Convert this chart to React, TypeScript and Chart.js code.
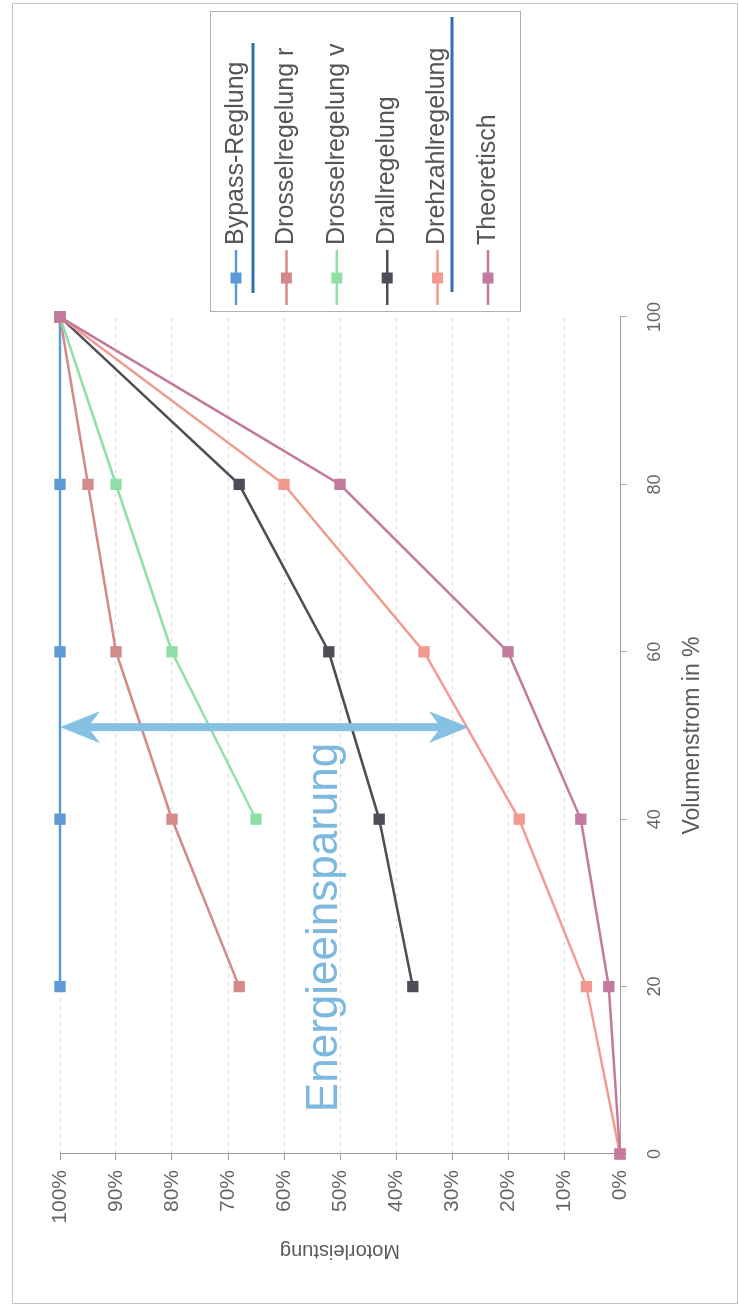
import { useEffect, useRef } from 'react';
import { Chart, registerables } from 'chart.js';

Chart.register(...registerables);

// ---- data ----
const volumenstrom = [0, 20, 40, 60, 80, 100];
const seriesNames = [
  'Bypass-Reglung',
  'Drosselregelung r',
  'Drosselregelung v',
  'Drallregelung',
  'Drehzahlregelung',
  'Theoretisch',
];
const bypass = [null, 100, 100, 100, 100, 100];
const drosselR = [null, 68, 80, 90, 95, 100];
const drosselV = [null, null, 65, 80, 90, 100];
const drall = [null, 37, 43, 52, 68, 100];
const drehzahl = [0, 6, 18, 35, 60, 100];
const theoretisch = [0, 2, 7, 20, 50, 100];

const xTickStep = 20;
const yTickStep = 10;

// annotation: double arrow + label
const arrowFlow = 51;
const arrowFrom = 100;
const arrowTo = 27;
const savingLabel = 'Energieeinsparung';
const savingLabelFlow = 5;
const savingLabelPower = 50.5;

// ---- styles ----
const W = 1307;
const H = 739;
const FONT = '"Liberation Sans", Arial, sans-serif';
const lineColors = ['#5b9bd5', '#d48a8a', '#8fe0a6', '#4e4e58', '#f29a90', '#c47a9e'];

export default function App() {
  const ref = useRef<HTMLCanvasElement>(null);

  useEffect(() => {
    const canvas = ref.current;
    if (!canvas) return;
    const all = [bypass, drosselR, drosselV, drall, drehzahl, theoretisch];
    const toPts = (arr: (number | null)[]) =>
      volumenstrom
        .map((x, i) => (arr[i] == null ? null : { x, y: arr[i] as number }))
        .filter((p) => p !== null) as { x: number; y: number }[];

    const decor = {
      id: 'decor',
      afterDatasetsDraw(chart: any) {
        const { ctx, scales } = chart;
        const xs = scales.x;
        const ys = scales.y;
        ctx.save();
        // double arrow
        const ax = xs.getPixelForValue(arrowFlow);
        const a1 = ys.getPixelForValue(arrowFrom);
        const a2 = ys.getPixelForValue(arrowTo);
        const col = '#86c0e2';
        ctx.strokeStyle = col;
        ctx.fillStyle = col;
        ctx.lineWidth = 8;
        ctx.beginPath();
        ctx.moveTo(ax, a1 + 20);
        ctx.lineTo(ax, a2 - 20);
        ctx.stroke();
        const head = (tip: number, dir: number) => {
          ctx.beginPath();
          ctx.moveTo(ax, tip);
          ctx.lineTo(ax - 16, tip + dir * 40);
          ctx.lineTo(ax, tip + dir * 28);
          ctx.lineTo(ax + 16, tip + dir * 40);
          ctx.closePath();
          ctx.fill();
        };
        head(a1, 1);
        head(a2, -1);
        // label
        ctx.font = '44px ' + FONT;
        ctx.fillStyle = '#7db9df';
        ctx.textBaseline = 'alphabetic';
        ctx.textAlign = 'left';
        ctx.fillText(savingLabel, xs.getPixelForValue(savingLabelFlow), ys.getPixelForValue(savingLabelPower));
        ctx.restore();
      },
      afterDraw(chart: any) {
        const { ctx, chartArea } = chart;
        ctx.save();
        // outer border
        ctx.strokeStyle = '#c4c4c4';
        ctx.lineWidth = 1;
        ctx.strokeRect(3.5, 12.5, W - 7, H - 14);
        // legend
        const left = chartArea.right + 5;
        const right = W - 12;
        const top = 210;
        const bottom = 520;
        ctx.fillStyle = '#ffffff';
        ctx.fillRect(left, top, right - left, bottom - top);
        ctx.strokeStyle = '#b0b0b0';
        ctx.strokeRect(left + 0.5, top + 0.5, right - left, bottom - top);
        chart.data.datasets.forEach((ds: any, i: number) => {
          const v = top + 26 + 50.4 * i;
          ctx.strokeStyle = ds.borderColor;
          ctx.lineWidth = 2.5;
          ctx.beginPath();
          ctx.moveTo(left + 7, v);
          ctx.lineTo(left + 62, v);
          ctx.stroke();
          ctx.fillStyle = ds.pointBackgroundColor;
          ctx.fillRect(left + 34 - 5.5, v - 5.5, 11, 11);
          ctx.fillStyle = '#555555';
          ctx.font = '25px ' + FONT;
          ctx.textBaseline = 'middle';
          ctx.textAlign = 'left';
          ctx.fillText(ds.label, left + 67, v);
        });
        // blue rules seen in legend
        ctx.strokeStyle = '#2f6fb5';
        ctx.lineWidth = 3;
        ctx.beginPath();
        ctx.moveTo(left + 19, top + 43);
        ctx.lineTo(left + 269, top + 43);
        ctx.moveTo(left + 20, top + 242);
        ctx.lineTo(left + 295, top + 242);
        ctx.stroke();
        ctx.restore();
      },
    };

    const chart = new Chart(canvas, {
      type: 'line',
      data: {
        datasets: all.map((arr, i) => ({
          label: seriesNames[i],
          data: toPts(arr),
          order: all.length - i,
          borderColor: lineColors[i],
          backgroundColor: lineColors[i],
          pointBackgroundColor: lineColors[i],
          pointBorderColor: lineColors[i],
          pointStyle: 'rect',
          pointRadius: 8,
          pointBorderWidth: 0,
          borderWidth: 2.5,
          tension: 0,
          fill: false,
          clip: false,
        })),
      },
      options: {
        animation: false,
        responsive: false,
        devicePixelRatio: 1,
        layout: { padding: { left: 0, top: 60, right: W - 990, bottom: 0 } },
        plugins: { legend: { display: false }, tooltip: { enabled: false } },
        scales: {
          x: {
            type: 'linear',
            min: 0,
            max: 100,
            afterFit: (s: any) => {
              s.height = 119;
            },
            ticks: { stepSize: xTickStep, padding: 17, color: '#666666', font: { family: FONT, size: 18 } },
            grid: { drawOnChartArea: false, drawTicks: true, tickLength: 7, tickColor: '#7fb0d8', color: '#7fb0d8' },
            border: { color: '#a0a0a0', width: 1 },
            title: {
              display: true,
              text: 'Volumenstrom in %',
              color: '#5a5a5a',
              font: { family: FONT, size: 23 },
              padding: { top: 0, bottom: 33 },
            },
          },
          y: {
            type: 'linear',
            min: 0,
            max: 100,
            afterFit: (s: any) => {
              s.width = 153;
            },
            ticks: {
              stepSize: yTickStep,
              padding: 10,
              color: '#666666',
              font: { family: FONT, size: 21 },
              callback: (v: any) => v + '%',
            },
            grid: { color: '#d4d4d4', tickLength: 6, tickColor: '#a0a0a0', lineWidth: 1 },
            border: { color: '#9a9a9a', width: 1, dash: [3, 5] },
            title: {
              display: true,
              text: 'Motorleistung',
              color: '#5a5a5a',
              font: { family: FONT, size: 20 },
              padding: { top: 44, bottom: 0 },
            },
          },
        },
      } as any,
      plugins: [decor],
    });
    return () => chart.destroy();
  }, []);

  return (
    <div
      style={{
        position: 'fixed',
        left: 0,
        top: 0,
        width: H,
        height: W,
        overflow: 'hidden',
        background: '#ffffff',
      }}
    >
      <canvas
        ref={ref}
        width={W}
        height={H}
        style={{
          position: 'absolute',
          left: 0,
          top: 0,
          width: W,
          height: H,
          transformOrigin: '0 0',
          transform: `translate(0px, ${W}px) rotate(-90deg)`,
        }}
      />
    </div>
  );
}
